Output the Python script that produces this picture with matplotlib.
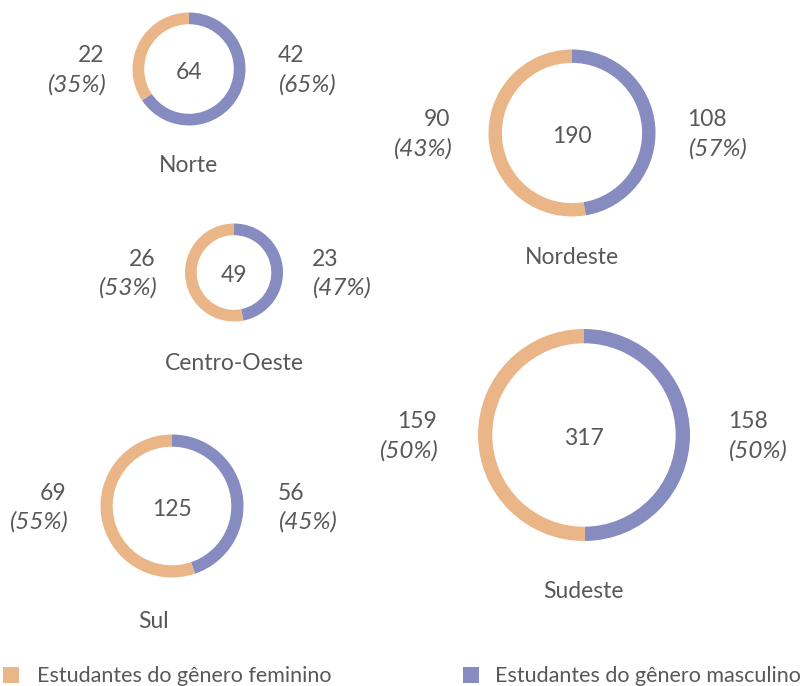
import matplotlib
matplotlib.use("Agg")
import matplotlib.pyplot as plt
from matplotlib.patches import Rectangle

# data
regions = ["Norte", "Nordeste", "Centro-Oeste", "Sudeste", "Sul"]
female = [22, 90, 26, 159, 69]
male = [42, 108, 23, 158, 56]
totals = [64, 190, 49, 317, 125]
female_pct = [35, 43, 53, 50, 55]
male_pct = [65, 57, 47, 50, 45]
# arc sizes as drawn in the reference (Nordeste ring shows ~47% male, not 57%)
arc_male = [42, 90, 23, 158, 56]
arc_female = [22, 100, 26, 159, 69]
legend_labels = ["Estudantes do gênero feminino", "Estudantes do gênero masculino"]

# layout in pixels (origin top-left)
W, H = 809, 686
cx = [189, 572, 234, 584, 172]
cy = [69, 133, 272.5, 435, 506]
radius = [56.5, 83.5, 49, 106, 71.5]
ring = [11.7, 13.4, 11.7, 14.3, 12.2]
gap_left = [28, 38, 29, 41, 34]
gap_right = [32, 32, 29, 38, 34]
title_x = [189, 572, 234, 583, 154]
title_y = [166, 258, 363, 592, 621]

ORANGE = "#EAB687"
BLUE = "#868BC0"
TXT = "#58585A"
FONT = "Lato"


def Y(py):
    return H - py


fig = plt.figure(figsize=(W / 100, H / 100), dpi=100)
ax = fig.add_axes([0, 0, 1, 1])

for i, name in enumerate(regions):
    x0, y0, r = cx[i], Y(cy[i]), radius[i]
    ax.pie([arc_male[i], arc_female[i]], colors=[BLUE, ORANGE], startangle=90,
           counterclock=False, radius=r, center=(x0, y0),
           wedgeprops=dict(width=ring[i], linewidth=0), frame=True)
    ax.text(x0, y0 - 3.5, str(totals[i]), ha="center", va="center",
            fontsize=16.5, color=TXT, family=FONT)
    xl = x0 - r - gap_left[i]
    xr = x0 + r + gap_right[i]
    ax.text(xl, y0 + 13, str(female[i]), ha="right", va="center",
            fontsize=16.5, color=TXT, family=FONT)
    ax.text(xl + 2, y0 - 15.5, f"({female_pct[i]}%)", ha="right", va="center",
            fontsize=17.5, color=TXT, family=FONT, style="italic")
    ax.text(xr, y0 + 13, str(male[i]), ha="left", va="center",
            fontsize=16.5, color=TXT, family=FONT)
    ax.text(xr + 1, y0 - 15.5, f"({male_pct[i]}%)", ha="left", va="center",
            fontsize=17.5, color=TXT, family=FONT, style="italic")
    ax.text(title_x[i], Y(title_y[i]), name, ha="center", va="center",
            fontsize=16.5, color=TXT, family=FONT)

# pixel frame (pie resets limits)
ax.set_xlim(0, W)
ax.set_ylim(0, H)
ax.set_aspect("equal")
ax.axis("off")

# legend
for (x_sq, x_txt), col, lab in zip([(3, 37), (463, 495)], [ORANGE, BLUE], legend_labels):
    ax.add_patch(Rectangle((x_sq, Y(683)), 16.5, 16, color=col, lw=0))
    ax.text(x_txt, Y(682), lab, ha="left", va="baseline",
            fontsize=15.5, color=TXT, family=FONT)

fig.savefig("out.png", dpi=100)
